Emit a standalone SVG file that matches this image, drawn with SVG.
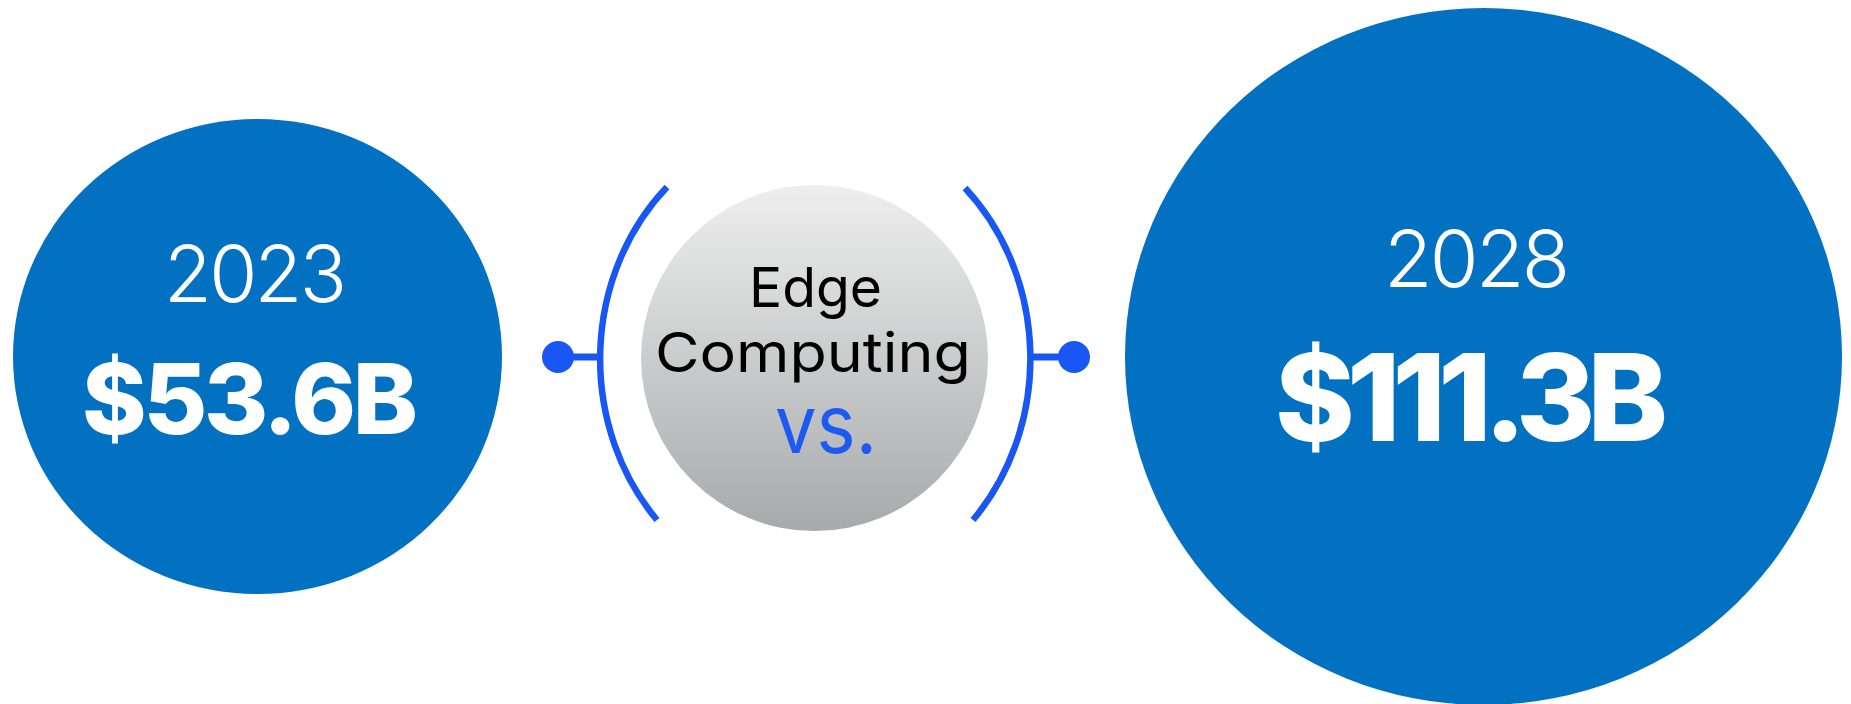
<svg xmlns="http://www.w3.org/2000/svg" width="1851" height="704" viewBox="0 0 1851 704">
<style>
.blob{fill:#0271c2}
.year{font-family:Inter,"Liberation Sans",sans-serif;font-weight:300;fill:#ffffff}
.amt{font-family:Inter,"Liberation Sans",sans-serif;font-weight:800;fill:#ffffff}
.lbl{font-family:Inter,"Liberation Sans",sans-serif;font-weight:400;fill:#000000}
.vs{font-family:Inter,"Liberation Sans",sans-serif;font-weight:400;fill:#1c5af2}
.arc{fill:none;stroke:#1957f4;stroke-width:6.5}
.stub{stroke:#1957f4;stroke-width:7}
.dot{fill:#1957f4}
</style>
<defs>
<linearGradient id="g" x1="0" y1="0" x2="0" y2="1">
<stop offset="0" stop-color="#eeeeee"/>
<stop offset="1" stop-color="#a7aaab"/>
</linearGradient>
</defs>
<rect width="1851" height="704" fill="#ffffff"/>
<g id="node-2023">
<ellipse class="blob" cx="257.5" cy="356.5" rx="244.5" ry="237.5"/>
<text class="year" x="164" y="302" font-size="78" textLength="183">2023</text>
<text class="amt" x="82" y="434" font-size="98" textLength="336">$53.6B</text>
</g>
<g id="node-center">
<ellipse cx="814.5" cy="358" rx="173.5" ry="173" fill="url(#g)"/>
<text class="lbl" x="749" y="306.5" font-size="55" textLength="133" lengthAdjust="spacingAndGlyphs">Edge</text>
<text class="lbl" x="655" y="372" font-size="55" textLength="316" lengthAdjust="spacingAndGlyphs">Computing</text>
<text class="vs" x="775" y="452.5" font-size="81" textLength="102" lengthAdjust="spacingAndGlyphs">vs.</text>
</g>
<g id="node-2028">
<ellipse class="blob" cx="1483.5" cy="356.5" rx="358.5" ry="348.5"/>
<text class="year" x="1384" y="286.5" font-size="79" textLength="186">2028</text>
<text class="amt" x="1275" y="440.5" font-size="121" textLength="393">$111.3B</text>
</g>
<g id="connectors">
<path class="arc" d="M667 187 A214 237 0 0 0 657 520"/>
<path class="arc" d="M965 188 A214 237 0 0 1 973 520"/>
<line class="stub" x1="558" y1="357" x2="602" y2="357"/>
<line class="stub" x1="1030" y1="357" x2="1074" y2="357"/>
<circle class="dot" cx="558" cy="357" r="16"/>
<circle class="dot" cx="1074" cy="357" r="16"/>
</g>
</svg>
